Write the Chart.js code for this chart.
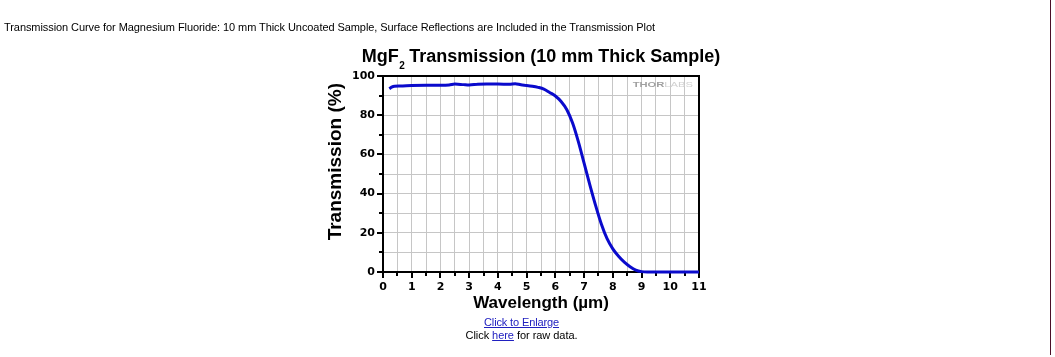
<!DOCTYPE html>
<html>
<head>
<meta charset="utf-8">
<script src="https://cdn.jsdelivr.net/npm/chart.js@4.4.1/dist/chart.umd.min.js"></script>
<style>
html,body{margin:0;padding:0;background:#fff;}
#wrap{position:relative;width:1055px;height:357px;overflow:hidden;background:#fff;}
#c{position:absolute;left:0;top:0;}
.txt{position:absolute;white-space:nowrap;font-family:"Liberation Sans",Arial,sans-serif;font-size:11px;line-height:13px;color:#000;}
#caption{left:4px;top:21px;}
#enlarge{left:521.5px;top:316px;transform:translateX(-50%);}
#raw{left:521.5px;top:329px;transform:translateX(-50%);}
a{color:#2020c0;text-decoration:underline;}
#vline{position:absolute;left:1050px;top:0;width:1px;height:355px;background:#4b0e27;}
</style>
</head>
<body>
<div id="wrap">
  <canvas id="c" width="1055" height="357" style="width:1055px;height:357px"></canvas>
  <div class="txt" id="caption">Transmission Curve for Magnesium Fluoride: 10 mm Thick Uncoated Sample, Surface Reflections are Included in the Transmission Plot</div>
  <div class="txt" id="enlarge"><a href="#">Click to Enlarge</a></div>
  <div class="txt" id="raw">Click <a href="#">here</a> for raw data.</div>
  <div id="vline"></div>
</div>
<script>
// ---- data ----
const wavelength = [0.22,0.3,0.4,0.6,1.0,1.5,2.0,2.3,2.5,2.8,3.0,3.3,3.6,4.0,4.4,4.6,4.8,5.0,5.2,5.4,5.6,5.8,6.0,6.2,6.4,6.6,6.8,7.0,7.2,7.4,7.6,7.8,8.0,8.2,8.4,8.6,8.8,9.0,9.2,9.5,10,10.5,11];
const transmission = [93.5,94.3,94.8,94.9,95.2,95.3,95.3,95.4,95.9,95.6,95.4,95.8,95.9,95.9,95.8,96.1,95.5,95.2,94.8,94.2,93.3,91.6,89.8,87.0,82.8,76.0,66.5,55.5,44.5,34.0,24.5,17.0,11.8,8.0,5.0,2.7,1.0,0.2,0,0,0,0,0];
const xTickLabels = ['0','1','2','3','4','5','6','7','8','9','10','11'];
const yTickLabels = ['0','20','40','60','80','100'];
const titleParts = ['MgF','2',' Transmission (10 mm Thick Sample)'];
const xTitle = 'Wavelength (\u00b5m)';
const yTitle = 'Transmission (%)';
const watermark = ['THOR','LABS'];

// ---- fit html text widths ----
function fitWidth(id, target){
  const el=document.getElementById(id);
  const w=el.getBoundingClientRect().width;
  const n=el.textContent.length;
  el.style.letterSpacing=((target-w)/n)+'px';
}
fitWidth('caption',651);
fitWidth('enlarge',75);
fitWidth('raw',112);

const points = wavelength.map((w,i)=>({x:w,y:transmission[i]}));
const FONT = '"Liberation Sans", Arial, sans-serif';

const decor = {
  id:'decor',
  beforeDatasetsDraw(chart){
    const {ctx, chartArea:a, scales:{x,y}} = chart;
    ctx.save();
    // frame
    ctx.strokeStyle='#000'; ctx.lineWidth=2;
    ctx.strokeRect(a.left, a.top, a.right-a.left, a.bottom-a.top);
    // tick marks
    ctx.beginPath();
    x.ticks.forEach(t=>{
      const px=Math.round(x.getPixelForValue(t.value));
      const len=Number.isInteger(t.value)?5:3;
      ctx.moveTo(px,a.bottom+1); ctx.lineTo(px,a.bottom+1+len);
    });
    y.ticks.forEach(t=>{
      const py=Math.round(y.getPixelForValue(t.value));
      const len=(t.value%20===0)?5:3;
      ctx.moveTo(a.left-1,py); ctx.lineTo(a.left-1-len,py);
    });
    ctx.stroke();
    // watermark
    const sx=1.6;
    ctx.textBaseline='alphabetic'; ctx.textAlign='left';
    ctx.font='bold 7px '+FONT;
    const w1=ctx.measureText(watermark[0]).width*sx;
    ctx.font='7px '+FONT;
    const w2=ctx.measureText(watermark[1]).width*sx;
    const x0=a.right-6-(w1+w2);
    const by=a.top+11;
    ctx.save(); ctx.translate(x0,by); ctx.scale(sx,1);
    ctx.font='bold 7px '+FONT; ctx.fillStyle='#a0a0a0';
    ctx.fillText(watermark[0],0,0);
    ctx.restore();
    ctx.save(); ctx.translate(x0+w1,by); ctx.scale(sx,1);
    ctx.font='7px '+FONT; ctx.fillStyle='#d0d0d0';
    ctx.fillText(watermark[1],0,0);
    ctx.restore();
    ctx.restore();
  },
  afterDraw(chart){
    const {ctx, chartArea:a} = chart;
    const cx=(a.left+a.right)/2;
    ctx.save();
    ctx.fillStyle='#000'; ctx.textBaseline='alphabetic'; ctx.textAlign='left';
    const big='bold 18px '+FONT, small='bold 10px '+FONT;
    ctx.font=big;
    const w1=ctx.measureText(titleParts[0]).width, w3=ctx.measureText(titleParts[2]).width;
    ctx.font=small;
    const w2=ctx.measureText(titleParts[1]).width;
    let x0=cx-(w1+w2+w3)/2;
    ctx.font=big; ctx.fillText(titleParts[0],x0,61.5);
    ctx.font=small; ctx.fillText(titleParts[1],x0+w1+0.5,69);
    ctx.font=big; ctx.fillText(titleParts[2],x0+w1+w2,61.5);
    // x title
    ctx.textAlign='center';
    ctx.font='bold 17px '+FONT;
    ctx.fillText(xTitle,cx,307.5);
    // y title
    ctx.translate(341,161.7); ctx.rotate(-Math.PI/2);
    ctx.font='bold 19px '+FONT;
    ctx.fillText(yTitle,0,0);
    ctx.restore();
  }
};

new Chart(document.getElementById('c'),{
  type:'line',
  data:{datasets:[{
    data:points,
    borderColor:'#0a0acc',
    borderWidth:3,
    pointRadius:0,
    cubicInterpolationMode:'monotone',
    fill:false,
    clip:4
  }]},
  options:{
    responsive:false,
    devicePixelRatio:1,
    animation:false,
    events:[],
    layout:{padding:{left:323,right:356,top:76,bottom:40}},
    plugins:{legend:{display:false},title:{display:false},tooltip:{enabled:false}},
    scales:{
      x:{
        type:'linear',min:0,max:11,
        afterFit(s){s.height=45;},
        grid:{color:'#c6c6c6',lineWidth:1,drawTicks:false},
        border:{display:false},
        ticks:{stepSize:0.5,autoSkip:false,maxRotation:0,padding:9,color:'#000',
          font:{family:'"DejaVu Sans"',size:11,weight:'bold'},
          callback:(v)=>Number.isInteger(v)?xTickLabels[v]:''}
      },
      y:{
        type:'linear',min:0,max:100,
        afterFit(s){s.width=60;},
        grid:{color:'#c6c6c6',lineWidth:1,drawTicks:false},
        border:{display:false},
        ticks:{stepSize:10,autoSkip:false,padding:8,color:'#000',
          font:{family:'"DejaVu Sans"',size:11,weight:'bold'},
          callback:(v)=>(v%20===0)?yTickLabels[v/20]:''}
      }
    }
  },
  plugins:[decor]
});
</script>
</body>
</html>
